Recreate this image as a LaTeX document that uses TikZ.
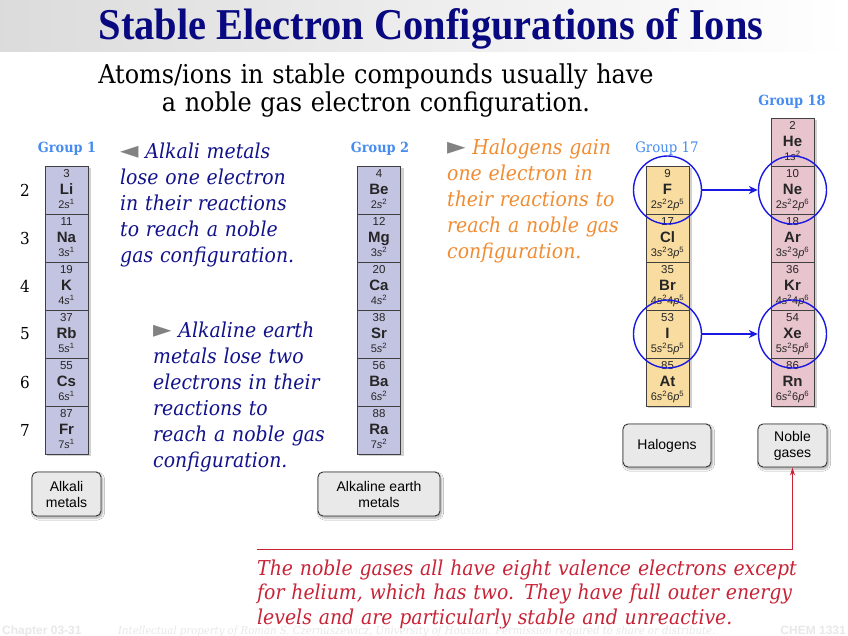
\documentclass[tikz,border=0pt]{standalone}
\usepackage{fontspec}
\setmainfont{DejaVu Serif}
\newfontfamily\titlef[FakeStretch=0.92]{Liberation Serif}
\newfontfamily\bodyf[FakeStretch=0.92]{DejaVu Serif}
\newfontfamily\sansf{Liberation Sans}
\newfontfamily\symf{DejaVu Sans}
\usetikzlibrary{arrows.meta,shadows.blur}
\definecolor{titleblue}{RGB}{8,8,128}
\definecolor{navy}{RGB}{18,18,140}
\definecolor{orangec}{RGB}{240,140,50}
\definecolor{redc}{RGB}{200,35,55}
\definecolor{groupblue}{RGB}{70,140,240}
\definecolor{lav}{RGB}{195,196,225}
\definecolor{halo}{RGB}{248,220,160}
\definecolor{pinkc}{RGB}{232,196,204}
\definecolor{circblue}{RGB}{25,25,225}
\definecolor{trigray}{RGB}{130,130,130}
\definecolor{boxgray}{RGB}{233,233,233}
\newcommand\elcell[7]{%
  \node[cellbox, fill=#4] (#1) at (#2,#3+24) {};
  \node[numtxt] (#1n) at (#2,#3+11.5) {#5};
  \node[symtxt] (#1s) at (#2,#3+28.3) {#6};
  \node[cfgtxt] (#1c) at (#2,#3+42.3) {#7};
}
\newcommand\sconf[2]{#1\textit{s}\textsuperscript{#2}}
\newcommand\spconf[4]{#1\textit{s}\textsuperscript{#2}#3\textit{p}\textsuperscript{#4}}
\newcommand\tri[1]{{\symf\fontsize{24}{24}\selectfont\color{trigray}#1}}
\begin{document}
\begin{tikzpicture}[x=1pt,y=-1pt,
  cellbox/.style={draw=black!75, line width=0.8pt, minimum width=43, minimum height=48, inner sep=0},
  numtxt/.style={font=\sansf\fontsize{11.5}{11.5}\selectfont, inner sep=0, anchor=base, text=black!85},
  symtxt/.style={font=\sansf\bfseries\fontsize{15}{15}\selectfont, inner sep=0, anchor=base, text=black!85},
  cfgtxt/.style={font=\sansf\fontsize{11}{11}\selectfont, inner sep=0, anchor=base, text=black!85},
  colshadow/.style={fill=black, opacity=0.18},
  grouplab/.style={font=\bodyf\bfseries\fontsize{14}{14}\selectfont, text=groupblue, anchor=base, inner sep=0},
  rownum/.style={font=\bodyf\fontsize{16.5}{16.5}\selectfont, inner sep=0},
  para/.style={font=\bodyf\itshape\fontsize{20.5}{26}\selectfont, align=left, inner sep=0, anchor=base west},
  catbox/.style={draw=black!80, line width=0.9pt, rounded corners=5pt, fill=boxgray, align=center,
    font=\sansf\fontsize{14}{16}\selectfont, inner sep=0,
    blur shadow={shadow xshift=1.5pt, shadow yshift=-2pt, shadow blur steps=6, shadow opacity=35}},
  ring/.style={draw=circblue, line width=1.4pt, circle, minimum size=68, inner sep=0},
  ringarrow/.style={draw=circblue, line width=1.4pt, -{Stealth[length=9pt,width=8pt]}},
  redarrow/.style={draw=redc, line width=1pt, -{Stealth[length=8pt,width=5pt]}},
  foot/.style={text=black!9, inner sep=0}
]
\useasboundingbox (0,0) rectangle (848,636);
\fill[white] (0,0) rectangle (848,636);
\shade[left color=black!14, right color=white] (0,0) rectangle (848,52);

% title and subtitle
\node[font=\titlef\bfseries\fontsize{44}{44}\selectfont, text=titleblue, anchor=base, inner sep=0] (title) at (431,40) {Stable Electron Configurations of Ions};
\node[font=\bodyf\fontsize{26}{28}\selectfont, align=center, text width=680, anchor=base, inner sep=0] (sub) at (376,84)
  {Atoms/ions in stable compounds usually have\\a noble gas electron configuration.};

% column shadows
\fill[colshadow] (47,168) rectangle (91,456);
\fill[colshadow] (359,168) rectangle (404,456);
\fill[colshadow] (648,168) rectangle (692,408);
\fill[colshadow] (773,120) rectangle (817,408);

% group 1
\elcell{li}{66.5}{166}{lav}{3}{Li}{\sconf{2}{1}}
\elcell{na}{66.5}{214}{lav}{11}{Na}{\sconf{3}{1}}
\elcell{k}{66.5}{262}{lav}{19}{K}{\sconf{4}{1}}
\elcell{rb}{66.5}{310}{lav}{37}{Rb}{\sconf{5}{1}}
\elcell{cs}{66.5}{358}{lav}{55}{Cs}{\sconf{6}{1}}
\elcell{fr}{66.5}{406}{lav}{87}{Fr}{\sconf{7}{1}}
% group 2
\elcell{be}{379}{166}{lav}{4}{Be}{\sconf{2}{2}}
\elcell{mg}{379}{214}{lav}{12}{Mg}{\sconf{3}{2}}
\elcell{ca}{379}{262}{lav}{20}{Ca}{\sconf{4}{2}}
\elcell{sr}{379}{310}{lav}{38}{Sr}{\sconf{5}{2}}
\elcell{ba}{379}{358}{lav}{56}{Ba}{\sconf{6}{2}}
\elcell{ra}{379}{406}{lav}{88}{Ra}{\sconf{7}{2}}
% group 17
\elcell{f}{667.5}{166}{halo}{9}{F}{\spconf{2}{2}{2}{5}}
\elcell{cl}{667.5}{214}{halo}{17}{Cl}{\spconf{3}{2}{3}{5}}
\elcell{br}{667.5}{262}{halo}{35}{Br}{\spconf{4}{2}{4}{5}}
\elcell{i}{667.5}{310}{halo}{53}{I}{\spconf{5}{2}{5}{5}}
\elcell{at}{667.5}{358}{halo}{85}{At}{\spconf{6}{2}{6}{5}}
% group 18
\elcell{he}{792.5}{118}{pinkc}{2}{He}{1\textit{s}\textsuperscript{2}}
\elcell{ne}{792.5}{166}{pinkc}{10}{Ne}{\spconf{2}{2}{2}{6}}
\elcell{ar}{792.5}{214}{pinkc}{18}{Ar}{\spconf{3}{2}{3}{6}}
\elcell{kr}{792.5}{262}{pinkc}{36}{Kr}{\spconf{4}{2}{4}{6}}
\elcell{xe}{792.5}{310}{pinkc}{54}{Xe}{\spconf{5}{2}{5}{6}}
\elcell{rn}{792.5}{358}{pinkc}{86}{Rn}{\spconf{6}{2}{6}{6}}

% group labels
\node[grouplab] (g1) at (67,153) {Group 1};
\node[grouplab] (g2) at (380,153) {Group 2};
\node[grouplab, font=\bodyf\fontsize{14.5}{14.5}\selectfont] (g17) at (667,153) {Group 17};
\node[grouplab] (g18) at (792,106) {Group 18};

% period numbers
\node[rownum] (p2) at (25,190) {2};
\node[rownum] (p3) at (25,238) {3};
\node[rownum] (p4) at (25,286) {4};
\node[rownum] (p5) at (25,334) {5};
\node[rownum] (p6) at (25,382) {6};
\node[rownum] (p7) at (25,430) {7};

% rings and arrows
\node[ring] (rf) at (f) {};
\node[ring] (rne) at (ne) {};
\node[ring] (ri) at (i) {};
\node[ring] (rxe) at (xe) {};
\draw[ringarrow] (rf) -- (rne);
\draw[ringarrow] (ri) -- (rxe);

% category boxes
\node[catbox, minimum width=69, minimum height=44] (alkbox) at (66.5,494) {Alkali\\metals};
\node[catbox, minimum width=122, minimum height=44] (aebox) at (379,494) {Alkaline earth\\metals};
\node[catbox, minimum width=88, minimum height=43] (halbox) at (667,445.5) {Halogens};
\node[catbox, minimum width=69, minimum height=43] (noblebox) at (792.5,445.5) {Noble\\gases};

% paragraphs
\node[para, text=navy, text width=240] (alktxt) at (120,159)
  {\tri{◄}\ Alkali metals\\lose one electron\\in their reactions\\to reach a noble\\gas configuration.};
\node[para, text=navy, text width=210] (aetxt) at (153,337)
  {\tri{►}\ Alkaline earth\\metals lose two\\electrons in their\\reactions to\\reach a noble gas\\configuration.};
\node[para, text=orangec, text width=210] (haltxt) at (447,155)
  {\tri{►}\ Halogens gain\\one electron in\\their reactions to\\reach a noble gas\\configuration.};

% noble gas note
\coordinate (rstart) at (257,549);
\draw[redarrow] (rstart) -| (noblebox.south);
\node[para, text=redc, text width=590, font=\bodyf\itshape\fontsize{20.5}{24.5}\selectfont] (note) at (257,575)
  {The noble gases all have eight valence electrons except\\for helium, which has two. They have full outer energy\\levels and are particularly stable and unreactive.};

% footer
\node[foot, anchor=base west, font=\sansf\bfseries\fontsize{12}{12}\selectfont] (chap) at (2,634) {Chapter 03-31};
\node[foot, anchor=base west, font=\bodyf\itshape\fontsize{11}{11}\selectfont] (ip) at (118,634) {Intellectual property of Roman S. Czernuszewicz, University of Houston. Permission required to share or distribute.};
\node[foot, anchor=base east, font=\sansf\bfseries\fontsize{12}{12}\selectfont] (chem) at (846,634) {CHEM 1331};
\end{tikzpicture}
\end{document}
